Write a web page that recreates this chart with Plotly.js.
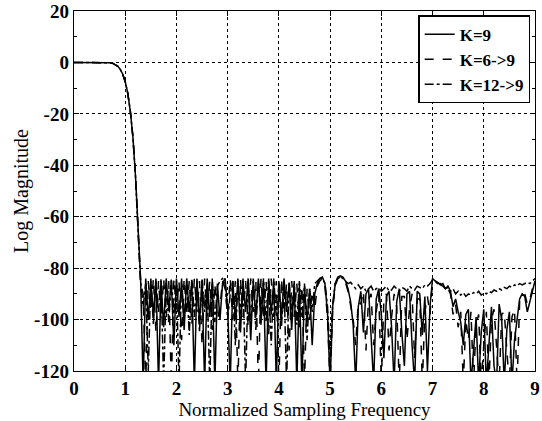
<!DOCTYPE html>
<html>
<head>
<meta charset="utf-8">
<script src="https://cdn.plot.ly/plotly-3.0.1.min.js"></script>
<style>html,body{margin:0;padding:0;background:#fff;}#chart{width:542px;height:421px;}</style>
</head>
<body>
<div id="chart"></div>
<script>
// Normalized sampling frequency samples (passband then stopband)
const freq = [
  0, 0.2, 0.4, 0.6, 0.7, 0.75, 0.8, 0.85, 0.9, 0.95, 1.0, 1.05, 1.1, 1.15, 1.2, 1.25,
  1.30,1.35,1.40,1.45,1.50,1.55,1.60,1.65,1.70,1.75,
  1.80,1.85,1.90,1.95,2.00,2.05,2.10,2.15,2.20,2.25,
  2.30,2.35,2.40,2.45,2.50,2.55,2.60,2.65,2.70,2.75,
  2.80,2.85,2.90,2.95,3.00,3.05,3.10,3.15,3.20,3.25,
  3.30,3.35,3.40,3.45,3.50,3.55,3.60,3.65,3.70,3.75,
  3.80,3.85,3.90,3.95,4.00,4.05,4.10,4.15,4.20,4.25,
  4.30,4.35,4.40,4.45,4.50,4.55,4.60,4.65,4.70,4.75,
  4.80,4.85,4.90,4.95,5.00,5.05,5.10,5.15,5.20,5.25,
  5.30,5.35,5.40,5.45,5.50,5.55,5.60,5.65,5.70,5.75,
  5.80,5.85,5.90,5.95,6.00,6.05,6.10,6.15,6.20,6.25,
  6.30,6.35,6.40,6.45,6.50,6.55,6.60,6.65,6.70,6.75,
  6.80,6.85,6.90,6.95,7.00,7.05,7.10,7.15,7.20,7.25,
  7.30,7.35,7.40,7.45,7.50,7.55,7.60,7.65,7.70,7.75,
  7.80,7.85,7.90,7.95,8.00,8.05,8.10,8.15,8.20,8.25,
  8.30,8.35,8.40,8.45,8.50,8.55,8.60,8.65,8.70,8.75,
  8.80,8.85,8.90,8.95,9.00
];

const passband = [0, 0, 0, 0, -0.1, -0.3, -0.7, -1.4, -2.6, -4.5, -7.5, -12, -19, -29, -44, -64];

// K=9 (solid)
const k9 = passband.concat([
  -84,-125,-84,-100,-85,-98,-84,-125,-85,-103,
  -84,-96,-85,-110,-84,-99,-85,-104,-84,-97,
  -85,-125,-84,-101,-85,-125,-84,-99,-85,-125,
  -86,-100,-86,-84,-96,-125,-85,-100,-84,-105,
  -85,-97,-84,-108,-85,-99,-84,-102,-85,-125,
  -84,-98,-85,-125,-85,-100,-84,-97,-86,-104,
  -85,-125,-86,-125,-87,-101,-88,-110,-90,-86,
  -84,-83.5,-86,-98,-125,-95,-86,-83.5,-83,-83.5,
  -85,-88,-93,-102,-125,-95,-89,-105,-90,-88,
  -108,-125,-92,-88,-98,-115,-91,-89,-103,-125,
  -93,-88,-105,-118,-90,-89,-110,-125,-89,-90,
  -106,-91,-120,-95,-84,-85,-85.5,-86.5,-86,-88,
  -87,-89,-95,-92,-97,-101,-110,-98,-96,-125,
  -112,-99,-125,-105,-96,-125,-110,-95,-118,-125,
  -94,-100,-125,-104,-97,-125,-108,-99,-92,-90,
  -91,-97,-93,-88,-85
]);

// K=6->9 (dashed)
const k6to9 = passband.concat([
  -86,-90,-125,-85,-97,-84,-105,-85,-100,-84,
  -99,-85,-125,-84,-96,-85,-108,-84,-98,-85,
  -102,-84,-97,-85,-110,-84,-99,-85,-104,-86,
  -100,-95,-85,-88,-98,-84,-100,-85,-125,-84,
  -99,-85,-103,-84,-97,-85,-125,-84,-100,-85,
  -106,-84,-99,-85,-125,-84,-98,-86,-112,-85,
  -99,-86,-103,-87,-125,-88,-100,-89,-96,-87,
  -85,-84,-87,-100,-125,-96,-87,-84,-83.5,-84,
  -85.5,-89,-95,-100,-110,-93,-94,-89,-112,-92,
  -90,-110,-97,-90,-125,-92,-90,-112,-99,-90,
  -95,-125,-91,-91,-108,-96,-90,-115,-92,-92,
  -125,-97,-91,-98,-85,-85,-86,-86,-87,-87,
  -88,-90,-98,-94,-103,-97,-125,-100,-108,-97,
  -125,-102,-98,-125,-110,-97,-125,-100,-96,-112,
  -125,-98,-97,-112,-125,-99,-96,-125,-93,-91,
  -90,-94,-92,-88,-85
]);

// K=12->9 (dash-dot)
const k12to9 = passband.concat([
  -85,-95,-86,-120,-84,-102,-85,-97,-84,-125,
  -86,-101,-84,-98,-85,-125,-84,-100,-85,-106,
  -84,-99,-85,-105,-84,-97,-86,-125,-84,-101,
  -87,-85,-84,-86,-100,-90,-85,-110,-85,-98,
  -84,-125,-85,-100,-84,-104,-85,-97,-84,-101,
  -85,-110,-84,-99,-86,-103,-85,-125,-85,-98,
  -86,-102,-85,-99,-86,-108,-88,-97,-86,-85,
  -84,-84,-86,-95,-115,-94,-86,-84,-83.5,-84,
  -85,-86,-85.5,-87,-88,-86.5,-88,-87,-89,-88,
  -87,-89,-88,-87.5,-89,-88,-87,-89,-88.5,-87,
  -88,-89,-87.5,-88,-89,-87,-88,-88.5,-87,-87.5,
  -88,-86.5,-87,-86,-84.5,-85,-86,-86.5,-87,-88,
  -87.5,-89,-88,-90,-89,-90.5,-89.5,-91,-90,-90.5,
  -89.5,-90,-89,-90.5,-89.5,-90,-89,-89.5,-88.5,-89,
  -88,-88.5,-87.5,-88,-87,-87.5,-86.5,-87,-86,-86.5,
  -86,-85.5,-86,-85,-84
]);

const seriesNames = ["K=9", "K=6->9", "K=12->9"];
const xTicks = [0,1,2,3,4,5,6,7,8,9];
const yTicks = [20,0,-20,-40,-60,-80,-100,-120];

const serif = "'Liberation Serif', 'Times New Roman', Times, serif";

const traces = [
  {x: freq, y: k9, name: seriesNames[0], mode: "lines", line: {color: "#000", width: 1.5, dash: "solid"}},
  {x: freq, y: k6to9, name: seriesNames[1], mode: "lines", line: {color: "#000", width: 1.5, dash: "dash"}},
  {x: freq, y: k12to9, name: seriesNames[2], mode: "lines", line: {color: "#000", width: 1.5, dash: "dashdot"}}
];

const axisCommon = {
  showline: true, linecolor: "#000", linewidth: 1.3, mirror: "ticks",
  ticks: "inside", ticklen: 5, tickcolor: "#000",
  showgrid: true, gridcolor: "#000", gridwidth: 1.2, griddash: "dot",
  zeroline: false,
  tickfont: {family: serif, size: 19, color: "#000", weight: "bold"}
};

const layout = {
  width: 542, height: 421,
  margin: {l: 74, r: 7, t: 11, b: 50},
  paper_bgcolor: "#fff", plot_bgcolor: "#fff",
  showlegend: true,
  legend: {
    x: 0.99, y: 0.988, xanchor: "right", yanchor: "top",
    bgcolor: "#fff", bordercolor: "#000", borderwidth: 1.3,
    font: {family: serif, size: 17, color: "#000", weight: "bold"},
    tracegroupgap: 0
  },
  xaxis: Object.assign({}, axisCommon, {
    range: [0, 9], tickvals: xTicks, ticktext: xTicks.map(String),
    title: {text: "Normalized Sampling Frequency", font: {family: serif, size: 19, color: "#000"}, standoff: 2}
  }),
  yaxis: Object.assign({}, axisCommon, {
    range: [-120, 20], tickvals: yTicks, ticktext: yTicks.map(String),
    minor: {dtick: 10, ticks: "inside", ticklen: 3, tickcolor: "#000", showgrid: false},
    title: {text: "Log Magnitude", font: {family: serif, size: 20, color: "#000"}, standoff: 0}
  })
};

Plotly.newPlot("chart", traces, layout, {displayModeBar: false, staticPlot: true});
</script>
</body>
</html>
